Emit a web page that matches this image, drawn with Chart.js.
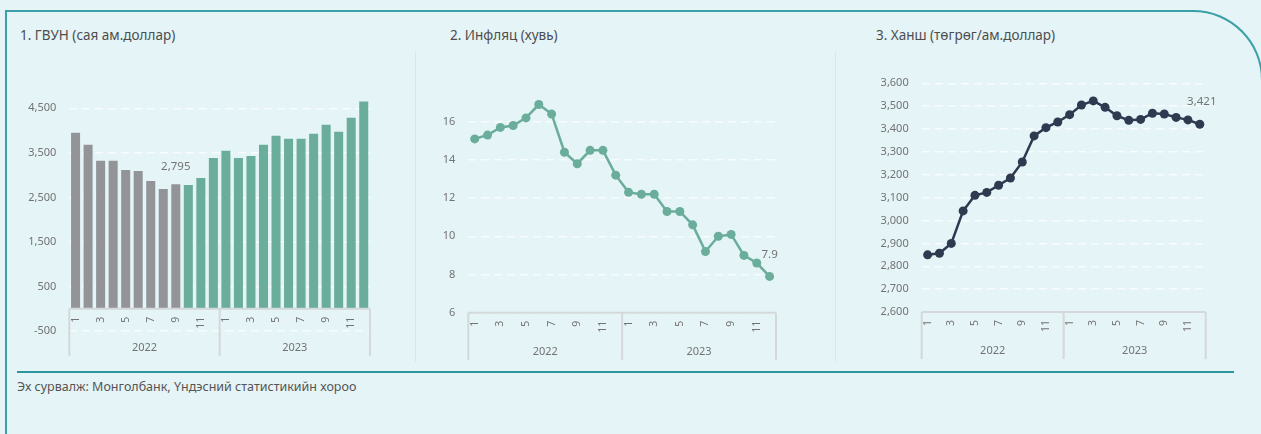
<!DOCTYPE html>
<html lang="mn">
<head>
<meta charset="UTF-8">
<title>ГВУН, Инфляц, Ханш</title>
<script src="https://cdn.jsdelivr.net/npm/chart.js"></script>
<style>
  html, body { margin: 0; padding: 0; }
  body {
    width: 1261px; height: 434px; overflow: hidden; position: relative;
    background: #e5f4f7; font-family: 'Noto Sans', sans-serif;
  }
  .frame {
    position: absolute; left: 5px; top: 10px; width: 1258px; height: 460px;
    box-sizing: border-box; border: 2px solid #3a9fa6; border-bottom: none;
    border-top-right-radius: 70px;
  }
  .sep { position: absolute; top: 52px; width: 1px; height: 310px; background: #d9e7e9; }
  .rule { position: absolute; left: 17px; top: 371px; width: 1217px; height: 2px; background: #2e959c; }
  .title { position: absolute; top: 27px; font-size: 13.5px; line-height: 17px; color: #4d4d4d; white-space: nowrap; }
  .source { position: absolute; left: 17px; top: 378px; font-size: 12.5px; line-height: 17px; color: #555; white-space: nowrap; }
  canvas { position: absolute; left: 0; top: 0; }
</style>
</head>
<body>
  <div class="frame"></div>
  <div class="sep" style="left:415px"></div>
  <div class="sep" style="left:835px"></div>
  <div class="title" style="left:20px">1. ГВУН (сая ам.доллар)</div>
  <div class="title" style="left:450px">2. Инфляц (хувь)</div>
  <div class="title" style="left:876px">3. Ханш (төгрөг/ам.доллар)</div>
  <div class="rule"></div>
  <div class="source">Эх сурвалж: Монголбанк, Үндэсний статистикийн хороо</div>

  <canvas id="fdiChart" width="1261" height="434"></canvas>
  <canvas id="inflChart" width="1261" height="434"></canvas>
  <canvas id="rateChart" width="1261" height="434"></canvas>

<script>
// months of 2022 and 2023
const monthLabels = ['1','2','3','4','5','6','7','8','9','10','11','12',
                     '1','2','3','4','5','6','7','8','9','10','11','12'];
const yearLabels = ['2022', '2023'];

// 1. FDI, mln USD
const fdiValues = [3950, 3680, 3320, 3320, 3115, 3090, 2865, 2685, 2795, 2775, 2935, 3385,
                   3545, 3385, 3430, 3680, 3885, 3815, 3815, 3930, 4130, 3975, 4290, 4650];
const fdiTicks = [-500, 500, 1500, 2500, 3500, 4500];

// 2. inflation, %
const inflationValues = [15.1, 15.3, 15.7, 15.8, 16.2, 16.9, 16.4, 14.4, 13.8, 14.5, 14.5, 13.2,
                         12.3, 12.2, 12.2, 11.3, 11.3, 10.6, 9.2, 10.0, 10.1, 9.0, 8.6, 7.9];
const inflationTicks = [6, 8, 10, 12, 14, 16];

// 3. exchange rate, MNT/USD
const rateValues = [2850, 2857, 2900, 3042, 3110, 3123, 3154, 3186, 3256, 3370, 3406, 3431,
                    3463, 3505, 3523, 3495, 3458, 3438, 3442, 3469, 3466, 3451, 3440, 3421];
const rateTicks = [2600, 2700, 2800, 2900, 3000, 3100, 3200, 3300, 3400, 3500, 3600];

Chart.defaults.font.family = "'Noto Sans', sans-serif";
Chart.defaults.color = '#737373';

const GRAY = '#939498';
const GREEN = '#6aad9b';
const NAVY = '#2e3a4f';

// two level category axis (month / year) like excel
const yearAxis = {
  id: 'yearAxis',
  afterDraw(chart, args, o) {
    const ctx = chart.ctx;
    const xs = chart.scales.x, ys = chart.scales.y;
    const base = o.atZero ? ys.getPixelForValue(0) : chart.chartArea.bottom;
    const n = chart.data.labels.length;
    const step = xs.getPixelForValue(1) - xs.getPixelForValue(0);
    const edge = i => xs.getPixelForValue(i) - step / 2;
    const perYear = n / yearLabels.length;

    ctx.save();
    ctx.strokeStyle = '#d3d8d9';
    ctx.lineWidth = 2;
    ctx.beginPath();
    ctx.moveTo(edge(0), base);
    ctx.lineTo(edge(n), base);
    for (let k = 0; k <= yearLabels.length; k++) {
      const xx = edge(k * perYear);
      ctx.moveTo(xx, base);
      ctx.lineTo(xx, base + 47);
    }
    ctx.stroke();

    ctx.fillStyle = '#737373';
    ctx.font = "10.5px 'Noto Sans'";
    ctx.textAlign = 'right';
    ctx.textBaseline = 'middle';
    chart.data.labels.forEach((lab, i) => {
      if (i % 2) return;
      ctx.save();
      ctx.translate(xs.getPixelForValue(i), base + 8);
      ctx.rotate(-Math.PI / 2);
      ctx.fillText(lab, 0, 0);
      ctx.restore();
    });

    ctx.textAlign = 'center';
    ctx.font = "11px 'Noto Sans'";
    yearLabels.forEach((yr, k) => {
      ctx.fillText(yr, (edge(k * perYear) + edge((k + 1) * perYear)) / 2, base + 39);
    });
    ctx.restore();
  }
};

// single value label
const pointLabel = {
  id: 'pointLabel',
  afterDatasetsDraw(chart, args, o) {
    const ctx = chart.ctx;
    const el = chart.getDatasetMeta(0).data[o.index];
    const v = chart.data.datasets[0].data[o.index];
    ctx.save();
    ctx.fillStyle = '#737373';
    ctx.font = "11.5px 'Noto Sans'";
    ctx.textAlign = 'center';
    ctx.textBaseline = 'middle';
    ctx.fillText(v.toLocaleString('en-US'), el.x + (o.dx || 0), el.y - o.dy);
    ctx.restore();
  }
};

function yAxis(min, max, ticks) {
  return {
    min: min,
    max: max,
    afterBuildTicks: s => { s.ticks = ticks.map(v => ({ value: v })); },
    afterFit: s => { s.width = 60; },
    grid: { color: 'rgba(255,255,255,0.7)', lineWidth: 1.5, drawTicks: false },
    border: { display: false, dash: [8, 5] },
    ticks: { padding: 13, font: { size: 11 }, callback: v => v.toLocaleString('en-US') }
  };
}

const xAxis = { type: 'category', offset: true, display: false };

new Chart(document.getElementById('fdiChart'), {
  type: 'bar',
  data: {
    labels: monthLabels,
    datasets: [{
      data: fdiValues,
      backgroundColor: c => c.dataIndex < 9 ? GRAY : GREEN,
      barPercentage: 0.72,
      categoryPercentage: 1
    }]
  },
  options: {
    responsive: false,
    animation: false,
    layout: { padding: { left: 9.3, right: 891, top: 86, bottom: 103 } },
    scales: { x: xAxis, y: yAxis(-500, 5000, fdiTicks) },
    plugins: {
      legend: { display: false },
      tooltip: { enabled: false },
      yearAxis: { atZero: true },
      pointLabel: { index: 8, dy: 18 }
    }
  },
  plugins: [yearAxis, pointLabel]
});

new Chart(document.getElementById('inflChart'), {
  type: 'line',
  data: {
    labels: monthLabels,
    datasets: [{
      data: inflationValues,
      borderColor: GREEN,
      backgroundColor: GREEN,
      borderWidth: 2.5,
      pointRadius: 4.5,
      pointBorderWidth: 0,
      tension: 0
    }]
  },
  options: {
    responsive: false,
    animation: false,
    layout: { padding: { left: 408.3, right: 485, top: 83.5, bottom: 121.3 } },
    scales: { x: xAxis, y: yAxis(6, 18, inflationTicks) },
    plugins: {
      legend: { display: false },
      tooltip: { enabled: false },
      yearAxis: { atZero: false },
      pointLabel: { index: 23, dy: 22 }
    }
  },
  plugins: [yearAxis, pointLabel]
});

new Chart(document.getElementById('rateChart'), {
  type: 'line',
  data: {
    labels: monthLabels,
    datasets: [{
      data: rateValues,
      borderColor: NAVY,
      backgroundColor: NAVY,
      borderWidth: 2.5,
      pointRadius: 4.5,
      pointBorderWidth: 0,
      tension: 0
    }]
  },
  options: {
    responsive: false,
    animation: false,
    layout: { padding: { left: 861.7, right: 55.3, top: 83.3, bottom: 122 } },
    scales: { x: xAxis, y: yAxis(2600, 3600, rateTicks) },
    plugins: {
      legend: { display: false },
      tooltip: { enabled: false },
      yearAxis: { atZero: false },
      pointLabel: { index: 23, dy: 23, dx: 2 }
    }
  },
  plugins: [yearAxis, pointLabel]
});
</script>
</body>
</html>
